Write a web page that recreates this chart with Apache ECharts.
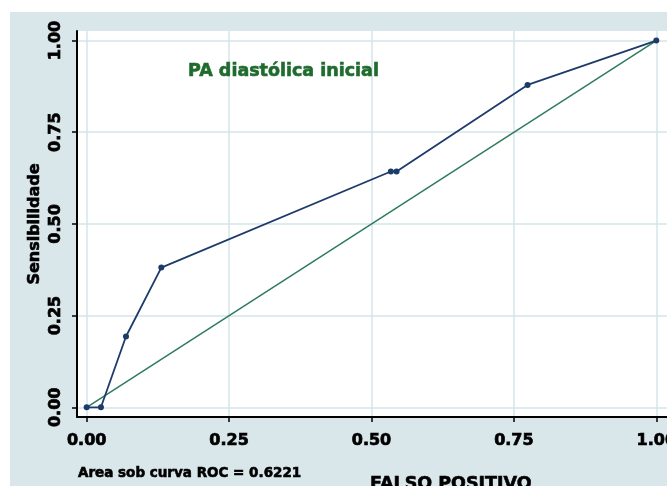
<!DOCTYPE html>
<html><head><meta charset="utf-8">
<script src="https://cdn.jsdelivr.net/npm/echarts@6/dist/echarts.min.js"></script>
<style>
html,body{margin:0;padding:0;background:#fff;overflow:hidden}
#c{position:absolute;left:10px;top:12px;width:657px;height:474px}
</style>
</head><body><div id="c"></div>
<script>
// ROC curve data
const falsePositive = [0, 0.025, 0.069, 0.131, 0.534, 0.544, 0.774, 1];
const sensitivity   = [0, 0, 0.193, 0.381, 0.643, 0.643, 0.879, 1];
// reference diagonal
const refX = [0, 1];
const refY = [0, 1];
// tick values
const tickValues = [0, 0.25, 0.5, 0.75, 1];
// texts
const chartTitle = 'PA diastólica inicial';
const areaText = 'Area sob curva ROC = 0.6221';
const xName = 'FALSO POSITIVO';
const yName = 'Sensibilidade';

const FONT = 'DejaVu Sans';
const chart = echarts.init(document.getElementById('c'), null, {renderer: 'canvas'});

const heavy = (color, w) => ({textBorderColor: color, textBorderWidth: w});

const labelStyle = Object.assign({
  customValues: tickValues,
  formatter: v => Number(v).toFixed(2),
  fontFamily: FONT, fontWeight: 'bold', fontSize: 16, color: '#000'
}, heavy('#000', 0.7));
const tickStyle = {
  show: true, customValues: tickValues, length: 5, inside: false,
  lineStyle: {color: '#000', width: 1.5}
};
const splitStyle = {show: true, lineStyle: {color: '#d3e4ea', width: 1.5}};

chart.setOption({
  animation: false,
  backgroundColor: '#d9e6ea',
  title: [
    {text: chartTitle, left: 178, top: 50, padding: 0,
     textStyle: Object.assign({color: '#1f6b2e', fontFamily: FONT, fontWeight: 'bold', fontSize: 17.5}, heavy('#1f6b2e', 0.6))},
    {text: areaText, left: 68, top: 454, padding: 0,
     textStyle: Object.assign({color: '#000', fontFamily: FONT, fontWeight: 'bold', fontSize: 13.5}, heavy('#000', 0.6))},
    {text: xName, left: 360, top: 463, padding: 0,
     textStyle: Object.assign({color: '#000', fontFamily: FONT, fontWeight: 'bold', fontSize: 17.5}, heavy('#000', 0.6))}
  ],
  grid: {left: 67, top: 19, right: 0, bottom: 69, show: true,
         backgroundColor: '#fff', borderWidth: 0,
         containLabel: false, outerBoundsMode: 'none'},
  xAxis: {
    type: 'value', min: -0.017, max: 1.0188,
    axisLine: {show: true, onZero: false, lineStyle: {color: '#000', width: 2}},
    axisTick: tickStyle,
    axisLabel: Object.assign({margin: 16}, labelStyle),
    splitLine: splitStyle
  },
  yAxis: {
    type: 'value', min: -0.0265, max: 1.026,
    name: yName, nameLocation: 'middle', nameRotate: 90, nameGap: 34,
    nameMoveOverlap: false,
    nameTextStyle: Object.assign({fontFamily: FONT, fontWeight: 'bold', fontSize: 16, color: '#000'}, heavy('#000', 0.6)),
    axisLine: {show: true, onZero: false, lineStyle: {color: '#000', width: 2}},
    axisTick: tickStyle,
    axisLabel: Object.assign({margin: 13, rotate: 90}, labelStyle),
    splitLine: splitStyle
  },
  series: [
    {type: 'line', name: 'ref', data: refX.map((x, i) => [x, refY[i]]),
     showSymbol: false, silent: true,
     lineStyle: {color: '#2e7b5e', width: 1.5}},
    {type: 'line', name: 'roc', data: falsePositive.map((x, i) => [x, sensitivity[i]]),
     symbol: 'circle', symbolSize: 6,
     itemStyle: {color: '#1d3b6a'},
     lineStyle: {color: '#1d3b6a', width: 1.8}}
  ]
});
</script>
</body></html>
